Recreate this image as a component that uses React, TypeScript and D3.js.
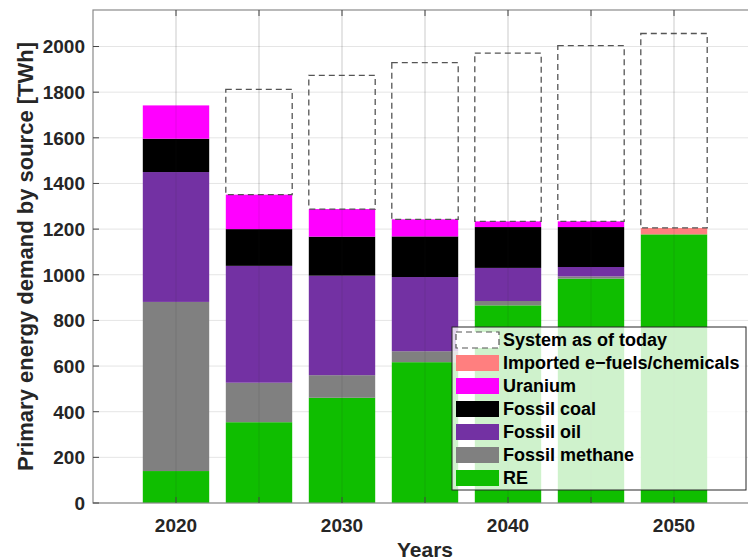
import * as d3 from "d3";

const years = [2020, 2025, 2030, 2035, 2040, 2045, 2050];
const labelYears = [2020, 2030, 2040, 2050];
const yTicks = [0, 200, 400, 600, 800, 1000, 1200, 1400, 1600, 1800, 2000];

// stacked components, bottom to top (TWh)
const re = [140, 354, 461, 617, 866, 983, 1177];
const methane = [741, 173, 99, 48, 19, 10, 0];
const oil = [569, 512, 436, 325, 145, 41, 0];
const coal = [146, 161, 171, 178, 179, 175, 0];
const uranium = [146, 151, 121, 75, 25, 25, 0];
const efuels = [0, 0, 0, 0, 0, 0, 28];
// demand if the system stayed as it is today
const systemToday = [1742, 1812, 1874, 1929, 1971, 2004, 2057];

const seriesNames = ["RE", "Fossil methane", "Fossil oil", "Fossil coal", "Uranium", "Imported e\u2212fuels/chemicals"];
const seriesColors = ["#0fbe00", "#808080", "#7331a3", "#000000", "#ff00ff", "#ff7f7f"];
const seriesValues = [re, methane, oil, coal, uranium, efuels];

const font = "'Liberation Sans', Arial, sans-serif";
const textColor = "#262626";

export default function App() {
  const width = 748;
  const height = 560;
  const margin = { top: 10, left: 93, bottom: 503 };

  const x = d3.scaleLinear().domain([2015, 2055]).range([93, 757]);
  const y = d3.scaleLinear().domain([0, 2160]).range([margin.bottom, margin.top]);
  const barW = (x(2025) - x(2020)) * 0.8;

  const rows = years.map((yr, i) => {
    const r: any = { year: yr };
    seriesNames.forEach((n, k) => (r[n] = seriesValues[k][i]));
    return r;
  });
  const stacked = d3.stack().keys(seriesNames)(rows);
  const totals = years.map((_, i) => seriesValues.reduce((s, v) => s + v[i], 0));

  const legendItems = ["System as of today", ...seriesNames.slice().reverse()];
  const legendColors = ["none", ...seriesColors.slice().reverse()];
  const lx = 452, ly = 327, lw = 294, lh = 163, rowH = 23;

  return (
    <svg width={width} height={height} style={{ position: "absolute", left: 0, top: 0, background: "#fff" }}>
      {/* horizontal grid */}
      {yTicks.map(t => (
        <line key={"h" + t} x1={x(2015)} x2={x(2055)} y1={y(t)} y2={y(t)} stroke="#262626" strokeOpacity={0.12} />
      ))}
      {years.map(yr => (
        <line key={"vb" + yr} x1={x(yr)} x2={x(yr)} y1={y(0)} y2={margin.top} stroke="#262626" strokeOpacity={0.12} />
      ))}

      {/* stacked bars */}
      {stacked.map((layer, k) =>
        layer.map((d, i) => (
          <rect key={k + "-" + i} x={x(years[i]) - barW / 2} width={barW}
            y={y(d[1])} height={Math.max(0, y(d[0]) - y(d[1]))} fill={seriesColors[k]} />
        ))
      )}

      {/* system as of today, dashed */}
      {years.map((yr, i) => (
        <rect key={"sys" + yr} x={x(yr) - barW / 2} width={barW} y={y(systemToday[i])}
          height={y(totals[i]) - y(systemToday[i])} fill="none" stroke="#555" strokeWidth={1.3} strokeDasharray="6,4" />
      ))}

      {/* vertical grid over bars */}
      {years.map(yr => (
        <line key={"v" + yr} x1={x(yr)} x2={x(yr)} y1={y(0)} y2={margin.top} stroke="#262626" strokeOpacity={0.12} />
      ))}

      {/* axes box */}
      <rect x={x(2015)} y={margin.top} width={x(2055) - x(2015)} height={y(0) - margin.top} fill="none" stroke="#8a8a8a" strokeWidth={1.2} />
      {years.map(yr => (
        <g key={"t" + yr}>
          <line x1={x(yr)} x2={x(yr)} y1={y(0)} y2={y(0) - 6} stroke="#444" />
          <line x1={x(yr)} x2={x(yr)} y1={margin.top} y2={margin.top + 6} stroke="#444" />
        </g>
      ))}
      {yTicks.map(t => (
        <line key={"yt" + t} x1={x(2015)} x2={x(2015) + 6} y1={y(t)} y2={y(t)} stroke="#444" />
      ))}

      {/* tick labels */}
      {yTicks.map(t => (
        <text key={"yl" + t} x={x(2015) - 8} y={y(t)} dy="0.36em" textAnchor="end"
          fontFamily={font} fontWeight="bold" fontSize={19} fill={textColor}>{t}</text>
      ))}
      {labelYears.map(yr => (
        <text key={"xl" + yr} x={x(yr)} y={532} textAnchor="middle"
          fontFamily={font} fontWeight="bold" fontSize={19} fill={textColor}>{yr}</text>
      ))}

      {/* axis titles */}
      <text x={(x(2015) + x(2055)) / 2} y={557} textAnchor="middle" fontFamily={font} fontWeight="bold" fontSize={21} fill={textColor}>Years</text>
      <text transform={`translate(33,${(margin.top + y(0)) / 2}) rotate(-90)`} textAnchor="middle"
        fontFamily={font} fontWeight="bold" fontSize={22} fill={textColor}>Primary energy demand by source [TWh]</text>

      {/* legend */}
      <rect x={lx} y={ly} width={lw} height={lh} fill="#fff" fillOpacity={0.8} stroke="#262626" strokeWidth={1} />
      {legendItems.map((name, i) => {
        const cy = ly + 13 + i * rowH;
        return (
          <g key={"lg" + name}>
            {i === 0 ? (
              <rect x={lx + 4} y={cy - 8} width={43} height={16} fill="#fff" stroke="#555" strokeWidth={1.2} strokeDasharray="6,4" />
            ) : (
              <rect x={lx + 4} y={cy - 8} width={43} height={16} fill={legendColors[i]} />
            )}
            <text x={lx + 51} y={cy} dy="0.36em" fontFamily={font} fontWeight="bold" fontSize={18} fill="#000">{name}</text>
          </g>
        );
      })}
    </svg>
  );
}
